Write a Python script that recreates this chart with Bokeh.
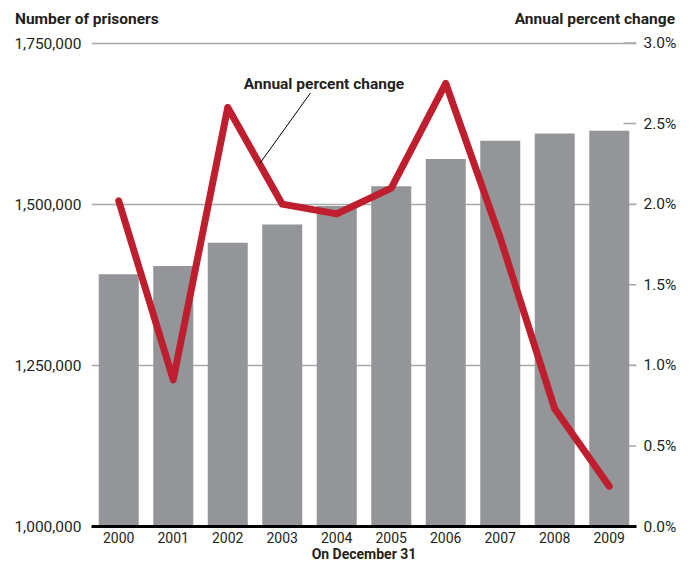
from bokeh.plotting import figure
from bokeh.layouts import column
from bokeh.models import (Range1d, LinearAxis, FixedTicker, Div,
                          NumeralTickFormatter, PrintfTickFormatter, Label,
                          ColumnDataSource)
from bokeh.embed import file_html
from bokeh.resources import INLINE

# ---- data ----
years = [2000, 2001, 2002, 2003, 2004, 2005, 2006, 2007, 2008, 2009]
prisoners = [1391261, 1404032, 1440144, 1468601, 1497100, 1527929, 1569945, 1598316, 1609759, 1613740]
pct_change = [2.02, 0.91, 2.60, 2.00, 1.94, 2.10, 2.75, 1.79, 0.73, 0.25]
left_ticks = [1000000, 1250000, 1500000, 1750000]
right_ticks = [0.0, 0.5, 1.0, 1.5, 2.0, 2.5, 3.0]
left_title = "Number of prisoners"
right_title = "Annual percent change"
x_title = "On December 31"

FONT = "Roboto"
FS = "15.5px"
TXT = "#231F20"
BAR = "#939598"
RED = "#BE1E2D"
GRID = "#A7A9AC"

# titles row (HTML text above the plot)
title_html = (
    '<div style="position:relative;width:678px;height:32px;font-family:Roboto;'
    'font-weight:bold;font-size:15.5px;line-height:15.5px;color:%s;">'
    '<span style="position:absolute;left:15px;top:12px;white-space:nowrap;">%s</span>'
    '<span style="position:absolute;right:3px;top:12px;white-space:nowrap;">%s</span>'
    '</div>' % (TXT, left_title, right_title))
top = Div(text=title_html, width=678, height=32, margin=(0, 0, 0, 0))

p = figure(frame_width=545, frame_height=485,
           x_range=Range1d(1999.5, 2009.5),
           y_range=Range1d(1000000, 1752328),
           output_backend="svg", toolbar_location=None,
           min_border_left=91, min_border_right=42,
           min_border_top=9, min_border_bottom=38, margin=(0, 0, 0, 0))
p.extra_y_ranges = {"pct": Range1d(0, 3.0093)}
p.outline_line_color = None
p.background_fill_color = "white"
p.border_fill_color = "white"

# grid
p.xgrid.visible = False
p.ygrid.ticker = FixedTicker(ticks=left_ticks)
p.ygrid.grid_line_color = GRID
p.ygrid.grid_line_width = 1.5

def style_axis(ax, standoff, size=FS):
    ax.axis_line_color = None
    ax.major_tick_line_color = None
    ax.minor_tick_line_color = None
    ax.major_tick_out = 0
    ax.major_tick_in = 0
    ax.minor_tick_out = 0
    ax.minor_tick_in = 0
    ax.major_label_standoff = standoff
    ax.major_label_text_font = FONT
    ax.major_label_text_font_size = size
    ax.major_label_text_color = TXT

# left axis
ya = p.yaxis[0]
ya.ticker = FixedTicker(ticks=left_ticks)
ya.formatter = NumeralTickFormatter(format="0,0")
style_axis(ya, 10)

# right axis
ra = LinearAxis(y_range_name="pct", ticker=FixedTicker(ticks=right_ticks),
                formatter=PrintfTickFormatter(format="%.1f%%"))
style_axis(ra, 7)
p.add_layout(ra, "right")

# bottom axis (the black baseline)
xa = p.xaxis[0]
xa.ticker = FixedTicker(ticks=years)
xa.formatter = NumeralTickFormatter(format="0")
style_axis(xa, 5, "14px")
xa.axis_line_color = "black"
xa.axis_line_width = 3
xa.axis_label = x_title
xa.axis_label_standoff = 0
xa.axis_label_text_font = FONT
xa.axis_label_text_font_style = "bold"
xa.axis_label_text_font_size = "14px"
xa.axis_label_text_color = TXT

# short right-axis ticks (behind bars)
n = len(right_ticks)
p.segment(x0=[2009.26] * n, x1=[2009.5] * n, y0=right_ticks, y1=right_ticks,
          y_range_name="pct", line_color=GRID, line_width=1.5)

# bars
src = ColumnDataSource(dict(year=years, prisoners=prisoners, pct=pct_change))
p.vbar(x="year", top="prisoners", bottom=1000000, width=0.734, source=src,
       fill_color=BAR, line_color=None)

# percent change line
p.line(x="year", y="pct", source=src, y_range_name="pct", line_color=RED,
       line_width=7, line_join="round", line_cap="round")

# annotation leader
p.segment(x0=[2003.518], y0=[2.69], x1=[2002.583], y1=[2.25],
          y_range_name="pct", line_color="black", line_width=1)
p.add_layout(Label(x=2003.766, y=2.745, y_range_name="pct",
                   text=right_title,
                   text_font=FONT, text_font_style="bold", text_font_size=FS,
                   text_color=TXT, text_align="center", text_baseline="alphabetic"))

layout = column(top, p, spacing=0, margin=(0, 0, 0, 0))
open("out.html", "w").write(file_html(layout, INLINE))
